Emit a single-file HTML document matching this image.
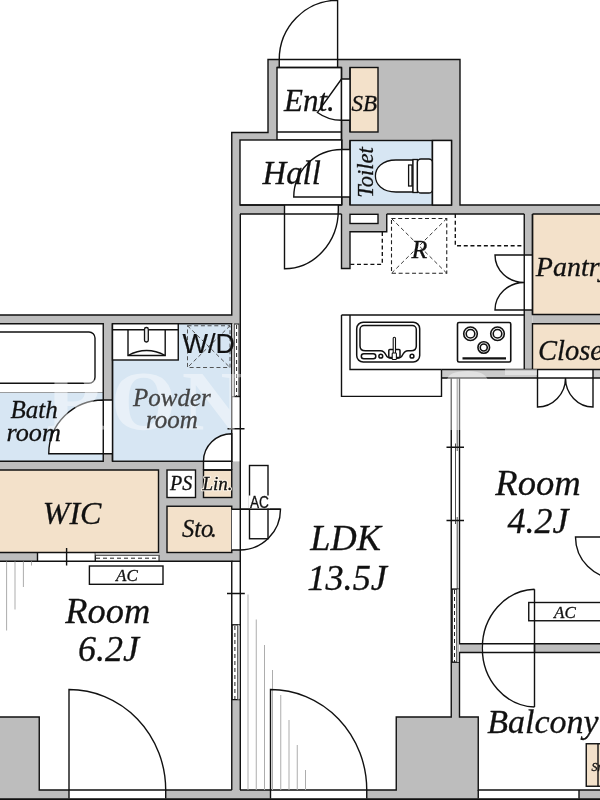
<!DOCTYPE html>
<html><head><meta charset="utf-8">
<style>
html,body{margin:0;padding:0;background:#fff}
body{width:600px;height:800px;overflow:hidden}
svg{display:block}
text{font-family:"Liberation Serif",serif;font-style:italic;fill:#111}
.sans{font-family:"Liberation Sans",sans-serif;font-style:normal}
.g{fill:#bdbdbd}
.w{fill:#fff}
.b{fill:#d7e6f3}
.e{fill:#f3e1ca}
.l{fill:none;stroke:#111;stroke-width:1.4}
.wl{fill:#fff;stroke:#111;stroke-width:1.4}
.bl{fill:#d7e6f3;stroke:#111;stroke-width:1.4}
.el{fill:#f3e1ca;stroke:#111;stroke-width:1.4}
.d{fill:none;stroke:#222;stroke-width:1.1;stroke-dasharray:4 2.7}
.fl{stroke:#adadad;stroke-width:1;fill:none}
</style></head><body>
<svg width="600" height="800" viewBox="0 0 600 800">
<!-- GRAY WALLS -->
<g class="g">
<rect x="268" y="59.5" width="192" height="81"/>
<rect x="232" y="132.5" width="228" height="81.5"/>
<rect x="460" y="205" width="140" height="9"/>
<rect x="232" y="214" width="8" height="110"/>
<rect x="0" y="315" width="240" height="8.75"/>
<rect x="103.25" y="323" width="9.25" height="139"/>
<rect x="0" y="461.25" width="240" height="8.75"/>
<rect x="158.5" y="470" width="81.5" height="91.25"/>
<rect x="0" y="552.5" width="240" height="8.75"/>
<rect x="231.75" y="699.5" width="8.25" height="91"/>
<rect x="0" y="790" width="600" height="9"/>
<rect x="0" y="717" width="39.25" height="82"/>
<rect x="396.25" y="717" width="82" height="82"/>
<rect x="451.25" y="662" width="8.25" height="56"/>
<rect x="459.5" y="643.75" width="140.5" height="8.75"/>
<rect x="524.25" y="214" width="8.25" height="164"/>
<rect x="532.5" y="314.5" width="67.5" height="9.25"/>
<rect x="441.5" y="369.5" width="158.5" height="8.5" style="fill:#cbcbcb"/>
<rect x="341.5" y="214" width="8.5" height="54.5"/>
<rect x="341.5" y="214" width="45.25" height="17.75"/>
</g>
<!-- ROOMS -->
<!-- Ent -->
<rect class="w" x="279.25" y="59.5" width="57.75" height="8.5"/>
<rect class="wl" x="277" y="67.5" width="64.5" height="72.5"/>
<line class="l" x1="277" y1="132" x2="341.5" y2="132"/>
<!-- Hall -->
<rect class="wl" x="240" y="140" width="101.75" height="65"/>
<!-- SB -->
<rect class="el" x="350" y="67.5" width="28" height="64.5"/>
<!-- Toilet -->
<rect class="bl" x="350" y="140.5" width="101.5" height="64.5"/>
<rect class="wl" x="432.4" y="140.5" width="19.1" height="64.5"/>
<!-- door gaps Ent/SB, Hall/Toilet -->
<rect class="w" x="341.5" y="79" width="8.5" height="41.3"/>
<rect class="w" x="341.75" y="149.5" width="8.25" height="47.5"/>
<!-- small white box -->
<rect class="wl" x="350" y="214.3" width="28" height="9.2"/>
<!-- hall/LDK door opening -->
<rect class="w" x="284.5" y="205" width="53.800" height="9.5"/>
<!-- Bath -->
<rect class="w" x="0" y="323.75" width="103.25" height="69"/>
<rect class="b" x="0" y="392.5" width="103.25" height="68.75"/>
<!-- Powder -->
<rect class="bl" x="112.5" y="323.75" width="119.25" height="137.5"/>
<!-- bath door gap -->
<rect class="w" x="103.25" y="400" width="9.25" height="53.75"/>
<!-- powder/LDK wall pocket & opening -->
<rect class="w" x="231.75" y="323.75" width="8.25" height="137.5"/>
<!-- WIC -->
<rect class="e" x="0" y="470" width="158.5" height="82.5"/>
<!-- PS, Lin, Sto -->
<rect class="wl" x="167" y="470" width="28.5" height="27.5"/>
<rect class="w" x="203.5" y="461.25" width="28.25" height="9"/>
<rect class="el" x="203.5" y="470" width="28.25" height="27.5"/>
<rect class="el" x="167" y="506.25" width="64.75" height="46.25"/>
<rect class="w" x="231.75" y="509.25" width="8.25" height="40.75"/>
<!-- WIC door opening -->
<rect class="w" x="37.5" y="552.5" width="121.5" height="8.75"/>
<!-- Wall Room6.2/LDK white part -->
<rect class="w" x="231.75" y="561.25" width="8.25" height="138.25"/>
<!-- bottom window openings -->
<rect class="w" x="69" y="790" width="96.7" height="8.5"/>
<rect class="w" x="270.5" y="790" width="96.25" height="8.5"/>
<rect class="w" x="478.25" y="790" width="100.75" height="8.5"/>
<!-- Pantry / Closet -->
<rect class="e" x="532.5" y="214" width="67.5" height="100.5"/>
<rect class="e" x="532.5" y="323.75" width="67.5" height="45.75"/>
<rect class="w" x="524.25" y="255" width="8.25" height="55"/>
<rect class="w" x="537.5" y="369.5" width="55.5" height="8.5"/>
<!-- sliding wall LDK/Room4.2 -->
<rect class="w" x="451.25" y="378" width="8.25" height="284"/>
<!-- balcony door opening -->
<rect class="w" x="481.25" y="643.75" width="53.25" height="8.75"/>
<!-- balcony box -->
<rect class="el" x="586.25" y="743.75" width="20" height="42.5"/>
<path class="l" d="M598,743.75 V786.25"/>

<!-- LINES -->
<g class="l">
<!-- outer top outline -->
<path d="M0,315 H231.75 V132.5 H268 V59.5 H460 V205 H600"/>
<path d="M341.5,67.5 V140 M341.75,140 V205 M350,67.5 V132 M350,140.5 V205 M277,67.5 H341.5 M240,205 H341.75"/>
<path d="M112.5,323.75 V461.25 M231.75,323.75 V461.25 M203.5,470 H231.75"/>
<path d="M0,392.5 H103.25" stroke="#777" stroke-width="0.7"/>
<!-- ent door threshold -->
<path d="M279.25,59.5 V67.5 M337.600,59.5 V67.5"/>
<!-- gray column between hall and toilet : door gaps -->
<path d="M341.5,79 H350 M341.5,120.3 H350 M341.75,149.5 H350 M341.75,197 H350"/>
<!-- LDK top line and hall door jambs -->
<path d="M240,214 H341.5"/>
<path d="M284.5,205 V214"/>
<!-- gray L near R -->
<path d="M341.5,214 V268.5 H350 V231.75 H386.75 V214"/>
<!-- top wall bottom edge -->
<path d="M386.75,214 H524.25 M532.5,214 H600"/>
<!-- pantry/closet wall -->
<path d="M524.25,214 V369.5 M532.5,214 V314.5 H600 M600,323.75 H532.5 V369.5"/>
<path d="M524.25,255 H532.5 M524.25,310 H532.5 M532.5,214 V314.5"/>
<!-- wall under closet -->
<path d="M441.5,369.5 H600 M441.5,378 H600 M537.5,369.5 V378 M593,369.5 V378"/>
<!-- LDK left x=240 -->
<path d="M240.3,214 V790"/>
<!-- bath -->
<path d="M0,323.75 H103.25 V461.25 H0"/>
<path d="M103.25,400 H112.5 M103.25,453.75 H112.5"/>
<!-- powder/LDK pocket -->
<path d="M231.75,396.5 H240"/>
<!-- WIC -->
<path d="M0,470 H158.5 V552.5 H0"/>
<path d="M0,561.25 H231.75 V790"/>
<path d="M37.5,552.5 V561.25 M95.4,552.5 V561.25"/>
<!-- Lin door gap -->
<path d="M203.5,461.25 V470 M231.75,461.25 V470"/>
<!-- Sto door gap -->
<path d="M231.75,509.25 H240 M231.75,550 H240"/>
<!-- gray block bottom -->
<path d="M231.75,561.25 H240"/>
<!-- bottom -->
<path d="M0,717 H39.25 V790 H231.75 M240,790 H396.25 V717 H451.25 V378 M459.5,378 V643.75 H600 M600,652.5 H459.5 V717 H478.25 V790 H600"/>
<path d="M69,790 V798.5 M165.7,790 V798.5 M270.5,790 V798.5 M366.75,790 V798.5 M478.25,790 V798.5 M579,790 V798.5"/>
<path d="M534.5,643.75 V652.5"/>
<!-- pockets ends -->
<path d="M231.75,625 H240 M231.75,699.5 H240 M451.25,589.25 H459.5 M451.25,662 H459.5"/>
</g>
<line x1="0" y1="799.2" x2="600" y2="799.2" stroke="#111" stroke-width="1.8"/>

<!-- FIXTURES -->
<!-- flooring gray lines -->
<g class="fl">
<path d="M6.6,561.5 V630.5 M15,561.5 V609.5 M23.4,561.5 V587 M31.5,561.5 V565.5"/>
<path d="M248,594.5 V790 M256.25,619.5 V790 M264.5,645 V790 M272.5,670 V790 M280.75,695 V790 M289,720 V790 M297.25,745 V790 M305.5,770 V790"/>
</g>
<!-- DOORS -->
<g class="l">
<!-- entrance door -->
<path d="M337.600,59.5 V0.300 A58.350,59.200 0 0 0 279.25,59.5"/>
<!-- SB door -->
<path d="M341.5,79 L317.4,112.5 A41.3,41.3 0 0 0 341.5,120.3"/>
<!-- toilet door -->
<path d="M341.75,197 H293.75 A48,47.5 0 0 1 341.75,149.5"/>
<!-- hall/LDK door -->
<path d="M284.5,214 V268.75 A53.800,58.750 0 0 0 338.300,210 V205"/>
<!-- pantry doors -->
<path d="M524.25,255 H495 A29.25,27.5 0 0 0 524.25,282.5 A29.25,27.5 0 0 0 495,310 H524.25"/>
<!-- closet doors -->
<path d="M537.5,378 V407 A28,29 0 0 0 565.5,378 A27.5,29 0 0 0 593,407 V378"/>
<!-- bath door -->
<path class="wl" d="M103.25,453.75 H48.75 A54.5,53.75 0 0 1 103.25,400 Z"/>
<!-- Lin door -->
<path class="wl" d="M231.75,461.25 H203.5 A28.25,27.5 0 0 1 231.75,433.75 Z"/>
<!-- Sto door -->
<path d="M240,509.25 H280.5 A40.5,40.75 0 0 1 240,550"/>
<!-- Room 6.2J window door -->
<path d="M69,790 V689.5 A96.7,100.5 0 0 1 165.7,790"/>
<!-- LDK window door -->
<path d="M270.5,790 V689.5 A96.25,100.5 0 0 1 366.75,790"/>
<!-- Room4.2 right door -->
<path d="M600,537 H575.5 A41.5,41.5 0 0 0 617,578.5"/>
<!-- balcony door -->
<path d="M534.5,589.25 V707 M534.5,589.25 A53.750,58.9 0 0 0 534.5,707"/>
</g>
<!-- AC units -->
<rect class="wl" x="249.5" y="465.5" width="18.5" height="73.25"/>
<rect class="w" x="248.500" y="495.500" width="21.500" height="13"/>
<path class="l" d="M240,509.25 H280.5"/>
<rect class="wl" x="89.4" y="566" width="73.6" height="18.3"/>
<rect class="wl" x="528.75" y="602.5" width="80" height="18.25"/>
<path class="l" d="M534.5,602.5 V620.75"/>
<!-- DASHED -->
<g class="d" style="stroke:#111;stroke-width:1.35">
<path d="M382.3,232 V264.3 H350"/>
<path d="M455.300,214 V245.75 H524"/>
</g>
<g class="d" style="stroke:#222;stroke-width:1.1">
<rect x="391.5" y="218.5" width="55.25" height="54.75"/>
</g>
<g class="d" style="stroke:#333;stroke-width:0.95">
<path d="M391.5,218.5 L446.75,273.25 M446.75,218.5 L391.5,273.25"/>
</g>
<g class="d">
<g stroke="#444" stroke-width="0.9"><rect x="187.5" y="325.75" width="42.5" height="41.75"/>
<path d="M187.5,325.75 L230,367.5 M230,325.75 L187.5,367.5"/></g>
</g>
<!-- sliding pockets -->
<g fill="#fff" stroke="#111" stroke-width="1">
<rect x="234.3" y="324" width="4.7" height="72.3"/>
<rect x="232.3" y="625" width="5.2" height="74.5"/>
<rect x="452.3" y="589.25" width="4.5" height="72.75"/>
<rect x="95.4" y="555.4" width="63.6" height="5.6"/>
</g>
<g class="g">
<rect x="237.5" y="625" width="2" height="74.5"/>
<rect x="232" y="324" width="2.3" height="72.3"/>
<rect x="456.8" y="589.25" width="2.2" height="72.75"/>
<rect x="95.4" y="553" width="63.6" height="2.4"/>
</g>
<g fill="none" stroke="#222" stroke-width="1" stroke-dasharray="4 3">
<path d="M236.6,325 V396 M234.9,626 V699 M454.5,590 V662 M96,558.2 H159"/>
</g>
<!-- sliding panels + ticks -->
<g class="l" stroke-width="1">
<path d="M227,593.5 H244.8 M446.5,447.2 H464 M446.5,520.5 H464 M227.5,428.75 H244.5 M66.6,548 V565.4"/>
</g>
<g fill="none" stroke="#222" stroke-width="0.8">
<path d="M457.2,378 V451 M455.5,443.5 V524 M457.2,517 V589"/>
</g>
<!-- KITCHEN -->
<g class="l">
<path d="M341.5,315 H524.25 M341.5,315 V396.4 H441.5 V369.5 M350,315 V369.5 H441.5"/>
</g>
<!-- sink -->
<g fill="#fff" stroke="#111" stroke-width="1.5">
<rect x="356.7" y="322.2" width="63" height="39.8" rx="6.5"/>
<path d="M364,325.5 H412.3 A4,4 0 0 1 416.3,329.500 V346 Q416.3,350.8 411,350.8 H408 Q404.5,351 402.500,355 Q401,358.3 397,358.3 H391.500 Q387.500,358.3 386,355 Q384,351 380.500,350.8 H365.300 Q360,350.800 360,346 V329.500 A4,4 0 0 1 364,325.500 Z"/>
<rect x="361.3" y="353.7" width="14.5" height="5" rx="2.5"/>
<circle cx="380.8" cy="356.2" r="1.9"/>
<circle cx="412" cy="356.2" r="1.9"/>
<rect x="388.800" y="349.500" width="11.200" height="8" rx="1"/>
<rect x="393.200" y="337.200" width="2.300" height="16.500" rx="1.100" stroke-width="1.1"/>
<rect x="392.200" y="353" width="4.200" height="6.500" rx="0.8" stroke-width="1.1"/>
</g>
<!-- stove -->
<g fill="#fff" stroke="#111" stroke-width="1.6">
<rect x="457.5" y="322.5" width="53.25" height="39.5" rx="1.5"/>
<circle cx="470.5" cy="333.75" r="6.8"/><circle cx="470.5" cy="333.75" r="4.300"/>
<circle cx="497.5" cy="333.75" r="6.8"/><circle cx="497.5" cy="333.75" r="4.300"/>
<circle cx="483.75" cy="347.5" r="5.800"/><circle cx="483.75" cy="347.5" r="3.500"/>
<path d="M462.5,358.300 H506" stroke-width="2.200"/>
</g>
<!-- toilet fixture -->
<g fill="#fff" stroke="#111" stroke-width="1.3">
<path d="M413,160 H396 C382,160 375.4,168 375.4,176 C375.4,184 382,192 396,192 H413 Z"/>
<rect x="413" y="159.500" width="4.400" height="33" />
<rect x="417.400" y="159" width="15" height="34" rx="3.500"/>
<rect x="408.600" y="165" width="3.400" height="21"/>
</g>
<path class="l" d="M432.4,140.5 V205"/>
<!-- bathtub -->
<rect class="wl" x="-10" y="332" width="105" height="51.25" rx="6"/>
<!-- washbasin -->
<g class="l">
<rect class="wl" x="112.5" y="323.75" width="65.75" height="36.25"/>
<path class="wl" d="M128,329.7 V355.5 H165.2 V329.7"/>
<path d="M112.5,329.7 H178.25"/>
<path d="M128,355.500 Q146.600,345.500 165.200,355.500"/>
<rect x="144.500" y="327.500" width="3.800" height="14.500" rx="1.800" fill="#eee" stroke="#111" stroke-width="1.300"/>
</g>

<!-- watermark -->
<g style="font-style:normal;font-weight:bold;fill:#fff;fill-opacity:0.42;stroke:none" font-size="84"><text x="46" y="429.5" style="font-style:normal;font-weight:bold;fill:#fff;stroke:none">R</text><text x="111" y="429.5" style="font-style:normal;font-weight:bold;fill:#fff;stroke:none">O</text><text x="182" y="429.5" style="font-style:normal;font-weight:bold;fill:#fff;stroke:none">N</text></g>
<g fill="#fff" fill-opacity="0.42"><path d="M447,430 V381 Q447,371 468,371 Q486,371 488,381 H463 V430 Z"/><rect x="505" y="369" width="32" height="6"/></g>
<!-- TEXT -->
<g id="txt" style="opacity:0.999" stroke="#111" stroke-width="0.3">
<text x="284" y="111.25" font-size="31">Ent.</text>
<text x="262.500" y="183.75" font-size="32.800">Hall</text>
<text x="351.500" y="111.25" font-size="23">SB</text>
<text transform="translate(372.500,197.800) rotate(-90)" font-size="22.500">Toilet</text>
<text x="411.500" y="257.500" font-size="26">R</text>
<text x="535.800" y="275.750" font-size="28">Pantry</text>
<text x="538" y="360" font-size="28.500">Closet</text>
<text x="10.500" y="417.500" font-size="25">Bath</text>
<text x="6.500" y="441.250" font-size="26.200">room</text>
<text x="133" y="406.250" font-size="25" style="fill:#444;stroke:#444">Powder</text>
<text x="146" y="428.250" font-size="25" style="fill:#444;stroke:#444">room</text>
<text class="sans" x="182.500" y="353" font-size="27" stroke-width="0.2">W/D</text>
<text x="170" y="489.500" font-size="20">PS</text>
<text x="202.500" y="489.500" font-size="19" style="stroke:#fcf5ea;stroke-width:2.4;stroke-linejoin:round">Lin.</text>
<text x="202.500" y="489.500" font-size="19">Lin.</text>
<text x="182" y="537" font-size="24.500">Sto<tspan dx="-2.600">.</tspan></text>
<text class="sans" x="250" y="508" font-size="16" textLength="19" lengthAdjust="spacingAndGlyphs">AC</text>
<text x="116" y="580.600" font-size="17">AC</text>
<text x="554" y="617.500" font-size="17">AC</text>
<text x="42.800" y="524" font-size="32">WIC</text>
<text x="65.300" y="623" font-size="36.400">Room</text>
<text x="78" y="660.500" font-size="36">6.2J</text>
<text x="495.300" y="494.500" font-size="36.600">Room</text>
<text x="507.500" y="533" font-size="36">4.2J</text>
<text x="310.300" y="550" font-size="36.300">LDK</text>
<text x="307.300" y="589.500" font-size="36.300">13.5J</text>
<text x="487.300" y="732.500" font-size="34">Balcony</text>
<text x="591.500" y="770.500" font-size="12">Sm</text>

</g>
</svg>
</body></html>
